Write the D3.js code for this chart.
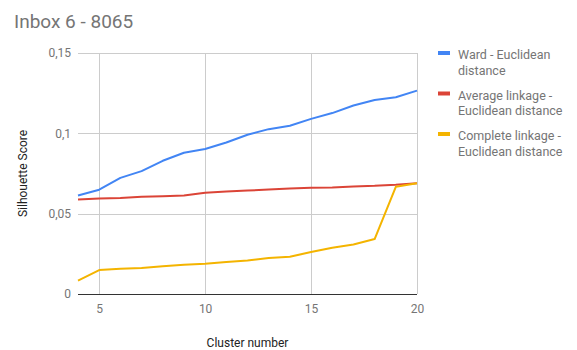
<!DOCTYPE html>
<html>
<head>
<meta charset="utf-8">
<script src="https://cdn.jsdelivr.net/npm/d3@7"></script>
<style>
  html, body { margin: 0; padding: 0; background: #fff; }
  svg { display: block; font-family: Roboto, "Noto Sans", sans-serif; }
</style>
</head>
<body>
<svg id="chart" width="577" height="350"></svg>
<script>
// Silhouette score per number of clusters, three hierarchical linkage methods
const clusters = [4, 5, 6, 7, 8, 9, 10, 11, 12, 13, 14, 15, 16, 17, 18, 19, 20];
const ward = [0.0613, 0.0649, 0.0723, 0.0765, 0.0829, 0.0879, 0.0902, 0.0943, 0.0991, 0.1026, 0.1047, 0.1090, 0.1126, 0.1173, 0.1208, 0.1225, 0.1266];
const average = [0.0588, 0.0595, 0.0597, 0.0605, 0.0609, 0.0613, 0.0630, 0.0638, 0.0644, 0.0650, 0.0656, 0.0661, 0.0663, 0.0669, 0.0673, 0.0680, 0.0690];
const complete = [0.0083, 0.0149, 0.0157, 0.0162, 0.0172, 0.0182, 0.0188, 0.0199, 0.0209, 0.0224, 0.0232, 0.0261, 0.0288, 0.0308, 0.0342, 0.0667, 0.0690];
const seriesNames = [["Ward - Euclidean", "distance"], ["Average linkage -", "Euclidean distance"], ["Complete linkage -", "Euclidean distance"]];
const seriesColors = ["#4285f4", "#db4437", "#f4b400"];
const xTicks = [5, 10, 15, 20];
const yTicks = [0, 0.05, 0.1, 0.15];
const yTickLabels = ["0", "0,05", "0,1", "0,15"];

const svg = d3.select("#chart");
const plot = { left: 78, right: 417, top: 53, bottom: 294 };

const x = d3.scaleLinear().domain([4, 20]).range([plot.left, plot.right]);
const y = d3.scaleLinear().domain([0, 0.15]).range([plot.bottom, plot.top]);

// Title
svg.append("text")
  .attr("x", 14).attr("y", 28)
  .attr("font-size", 19).attr("fill", "#757575")
  .text("Inbox 6 - 8065");

// Horizontal gridlines
svg.append("g").selectAll("line").data(yTicks.slice(1)).join("line")
  .attr("x1", plot.left).attr("x2", plot.right)
  .attr("y1", d => Math.round(y(d)) + 0.5).attr("y2", d => Math.round(y(d)) + 0.5)
  .attr("stroke", "#cccccc").attr("stroke-width", 1);

// Vertical gridlines
svg.append("g").selectAll("line").data(xTicks).join("line")
  .attr("x1", d => Math.round(x(d)) + 0.5).attr("x2", d => Math.round(x(d)) + 0.5)
  .attr("y1", plot.top).attr("y2", plot.bottom)
  .attr("stroke", "#cccccc").attr("stroke-width", 1);

// Y axis labels
const yAxis = d3.axisLeft(y).tickValues(yTicks).tickSize(0).tickPadding(7)
  .tickFormat((d, i) => yTickLabels[i]);
const gy = svg.append("g").attr("transform", `translate(${plot.left},0)`).call(yAxis);
gy.select(".domain").remove();
gy.selectAll("text").attr("font-size", 12).attr("fill", "#757575")
  .attr("font-family", "Roboto, sans-serif");

// X axis labels
const xAxis = d3.axisBottom(x).tickValues(xTicks).tickSize(0).tickPadding(10);
const gx = svg.append("g").attr("transform", `translate(0,${plot.bottom})`).call(xAxis);
gx.select(".domain").remove();
gx.selectAll("text").attr("font-size", 12).attr("fill", "#757575")
  .attr("font-family", "Roboto, sans-serif");

// Zero baseline
svg.append("line")
  .attr("x1", plot.left).attr("x2", plot.right)
  .attr("y1", Math.round(y(0)) + 0.5).attr("y2", Math.round(y(0)) + 0.5)
  .attr("stroke", "#333333").attr("stroke-width", 1);

// Axis titles
svg.append("text")
  .attr("x", (plot.left + plot.right) / 2).attr("y", 347)
  .attr("text-anchor", "middle").attr("font-size", 12).attr("fill", "#222")
  .text("Cluster number");
svg.append("text")
  .attr("transform", `translate(27,${(plot.top + plot.bottom) / 2}) rotate(-90)`)
  .attr("text-anchor", "middle").attr("font-size", 12).attr("fill", "#222")
  .text("Silhouette Score");

// Lines
const line = d3.line().x((d, i) => x(clusters[i])).y(d => y(d));
[ward, average, complete].forEach((vals, k) => {
  svg.append("path")
    .datum(vals)
    .attr("d", line)
    .attr("fill", "none")
    .attr("stroke", seriesColors[k])
    .attr("stroke-width", 2)
    .attr("stroke-linejoin", "round");
});

// Legend
const legend = svg.append("g");
seriesNames.forEach((lines, k) => {
  const top = 53 + k * 40.5;
  legend.append("line")
    .attr("x1", 438).attr("x2", 450)
    .attr("y1", top).attr("y2", top)
    .attr("stroke", seriesColors[k]).attr("stroke-width", 4);
  lines.forEach((t, j) => {
    legend.append("text")
      .attr("x", 458).attr("y", top + 6 + j * 15.5)
      .attr("font-size", 12.5).attr("fill", "#757575")
      .text(t);
  });
});
</script>
</body>
</html>
